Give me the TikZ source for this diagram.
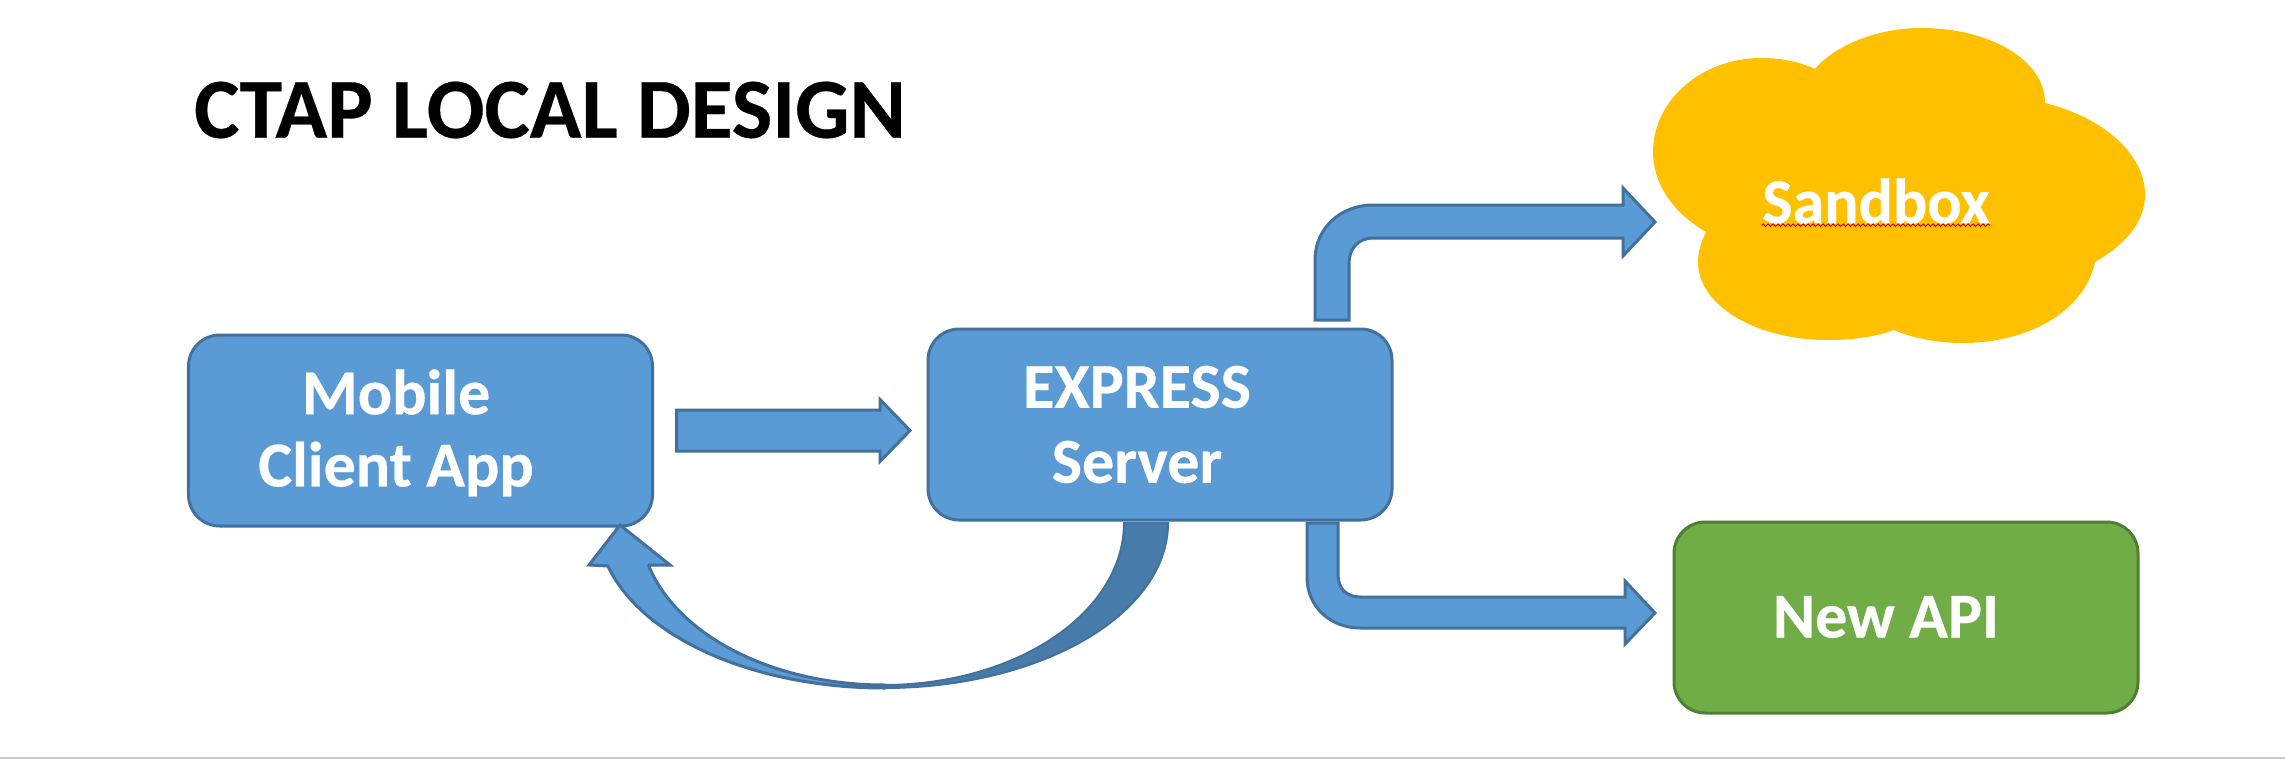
\documentclass[tikz,border=0pt]{standalone}
\usepackage{fontspec}
\setmainfont[BoldFeatures={FakeBold=0.4}]{Carlito}
\usetikzlibrary{calc,decorations.pathmorphing}
\definecolor{bluefill}{HTML}{5B9BD5}
\definecolor{blueline}{HTML}{41719C}
\definecolor{bluedark}{HTML}{477BAA}
\definecolor{greenfill}{HTML}{70AD47}
\definecolor{greenline}{HTML}{507E32}
\definecolor{cloudfill}{HTML}{FFC000}
\definecolor{rulegrey}{HTML}{C8C8C8}
\tikzset{
  box/.style={draw=blueline,fill=bluefill,line width=1.2pt,rounded corners=12.5pt,minimum width=185.6pt,minimum height=76.4pt,inner sep=0pt,outer sep=0pt},
  apibox/.style={box,draw=greenline,fill=greenfill},
  blockarrow/.style={draw=blueline,fill=bluefill,line width=1.2pt,line join=miter,miter limit=4},
  shadedarc/.style={draw=blueline,fill=bluedark,line width=.8pt},
  label/.style={text=white,font=\bfseries\fontsize{25.6}{26}\selectfont,inner sep=0pt,anchor=center},
  titlelabel/.style={text=black,font=\bfseries\fontsize{34.2}{34}\selectfont,inner sep=0pt,anchor=center}
}
\begin{document}
\begin{tikzpicture}[x=0.4pt,y=-0.4pt]
\useasboundingbox (0,0) rectangle (2285,759);
\fill[white] (0,0) rectangle (2285,759);
\draw[rulegrey,line width=.8pt] (0,757.5) -- (2285,757.5);

\node[titlelabel] (title) at (550,110) {CTAP LOCAL DESIGN};

% cloud
\fill[cloudfill] (1815,69)
 .. controls (1835,45) and (1878,28) .. (1921,28)
 .. controls (1990,28) and (2045,60) .. (2045,103)
 .. controls (2105,118) and (2145,155) .. (2145,195)
 .. controls (2145,222) and (2125,245) .. (2095,262)
 .. controls (2085,310) and (2030,343) .. (1963,343)
 .. controls (1937,343) and (1912,338) .. (1894,330)
 .. controls (1875,337) and (1852,340) .. (1828,340)
 .. controls (1755,340) and (1698,305) .. (1698,262)
 .. controls (1698,252) and (1701,242) .. (1706,232)
 .. controls (1672,212) and (1653,183) .. (1653,152)
 .. controls (1653,100) and (1702,58) .. (1761,58)
 .. controls (1782,58) and (1800,62) .. (1815,69) -- cycle;
\node[label] (sandbox) at (1876,201) {Sandbox};
\coordinate (squigglea) at ($(sandbox.south west)+(0,1)$);
\coordinate (squiggleb) at ($(sandbox.south east)+(0,1)$);
\draw[red!80!black,line width=.4pt,decorate,decoration={zigzag,amplitude=.5pt,segment length=2pt}]
  (squigglea) -- (squiggleb);

% boxes
\node[box] (mobile) at (420.5,430.5) {};
\node[box] (express) at (1160,424.5) {};
\node[apibox] (newapi) at (1906,617.5) {};

\node[label] (mobileline) at (396,392) {Mobile};
\node[label] (clientline) at (396,469) {Client App};
\node[label] (expressline) at (1137,387) {EXPRESS};
\node[label] (serverline) at (1137,462) {Server};
\node[label] (apilabel) at (1886,617) {New API};

% straight arrow mobile -> express
\coordinate (aone) at ($(mobile.east)+(24,0)$);
\coordinate (aoneend) at ($(express.west)+(-18,6)$);
\draw[blockarrow] ($(aone)+(0,-20.5)$) -- ($(aoneend)+(-30,-20.5)$) -- ($(aoneend)+(-30,-31)$) -- (aoneend)
  -- ($(aoneend)+(-30,31)$) -- ($(aoneend)+(-30,20.5)$) -- ($(aone)+(0,20.5)$) -- cycle;

% bent arrow to sandbox
\coordinate (atwo) at (1332,320);
\coordinate (atwoend) at (1655,222);
\draw[blockarrow] ($(atwo)+(-17,0)$) -- ($(atwo)+(-17,-60)$)
  .. controls ($(atwo)+(-17,-92)$) and ($(atwo)+(9,-115)$) .. ($(atwo)+(41,-115)$)
  -- ($(atwoend)+(-32,-17)$) -- ($(atwoend)+(-32,-34)$) -- (atwoend) -- ($(atwoend)+(-32,34)$) -- ($(atwoend)+(-32,16)$)
  -- ($(atwo)+(41,-82)$)
  .. controls ($(atwo)+(26,-82)$) and ($(atwo)+(17,-71)$) .. ($(atwo)+(17,-57)$)
  -- ($(atwo)+(17,0)$) -- cycle;

% bent arrow to new API
\coordinate (athree) at (1322.5,523);
\coordinate (athreeend) at (1655,613);
\draw[blockarrow] ($(athree)+(-15.5,0)$) -- ($(athree)+(-15.5,54)$)
  .. controls ($(athree)+(-15.5,84)$) and ($(athree)+(8,105)$) .. ($(athree)+(38,105)$)
  -- ($(athreeend)+(-30,15)$) -- ($(athreeend)+(-30,31)$) -- (athreeend) -- ($(athreeend)+(-30,-32)$) -- ($(athreeend)+(-30,-16)$)
  -- ($(athree)+(38,74)$)
  .. controls ($(athree)+(24,74)$) and ($(athree)+(15.5,66)$) .. ($(athree)+(15.5,51)$)
  -- ($(athree)+(15.5,0)$) -- cycle;

% curved return arrow
\coordinate (acentre) at (884,523);
\draw[shadedarc] ($(acentre)+(240,0)$) -- ($(acentre)+(284,0)$)
  -- plot[smooth,domain=0:90,samples=31] ({884+284*cos(\x)},{523+165*sin(\x)})
  -- plot[smooth,domain=90:0,samples=31] ({884+240*cos(\x)},{523+162*sin(\x)}) -- cycle;
\draw[blockarrow] (884,688)
  -- plot[smooth,domain=90:164.9,samples=31] ({884+286*cos(\x)},{523+165*sin(\x)})
  -- (589,565) -- (620,525) -- (670,565) -- (649,565)
  -- plot[smooth,domain=164.6:90,samples=31] ({884+244*cos(\x)},{523+162*sin(\x)}) -- cycle;
\end{tikzpicture}
\end{document}
